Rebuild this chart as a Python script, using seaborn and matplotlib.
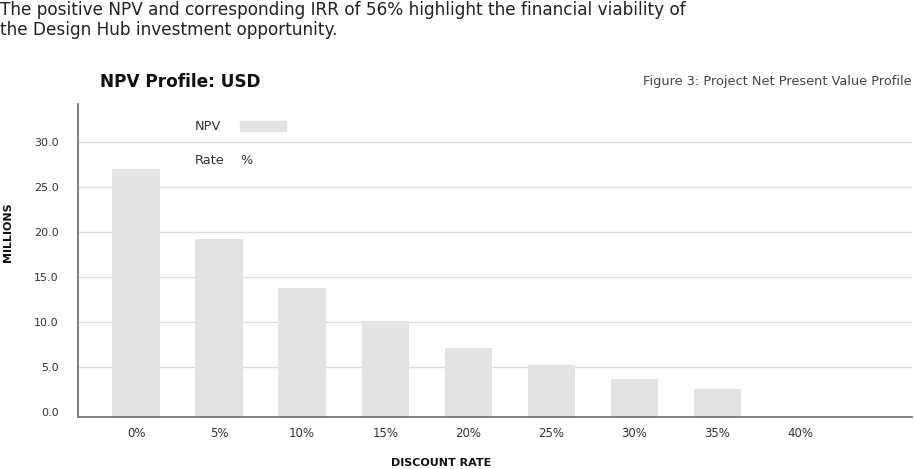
import pandas as pd
from matplotlib import pyplot as plt
import numpy as np
import seaborn as sns

# data
rates = ['0%', '5%', '10%', '15%', '20%', '25%', '30%', '35%', '40%']
npv = [27.0, 19.2, 13.8, 10.1, 7.1, 5.2, 3.7, 2.6, 0.0]
yticks = [0, 5, 10, 15, 20, 25, 30]

floor = -0.55  # axis sits a little below the 0.0 tick
df = pd.DataFrame({'rate': rates, 'npv': npv})
# bars are drawn up from the axis line
df['h'] = np.where(df['npv'] > 0, df['npv'] - floor, 0)

sns.set_theme(style='white')
plt.rcParams['font.family'] = ['DejaVu Sans']

fig = plt.figure(figsize=(9.14, 4.69), dpi=100)
ax = fig.add_axes([0.0853, 0.111, 0.913, 0.667])

sns.barplot(data=df, x='rate', y='h', color='#e3e3e3', saturation=1,
            width=0.57, ax=ax, bottom=floor, linewidth=0, zorder=2)

ax.set_xlim(-0.7, 9.35)
ax.set_ylim(floor, 34.2)
ax.set_yticks(yticks)
ax.set_yticklabels([f'{v:.1f}' for v in yticks], fontsize=8, color='#333333')
ax.set_xticks(range(len(rates)))
ax.set_xticklabels(rates, fontsize=8.5, color='#333333')
ax.tick_params(axis='x', length=0, pad=7)
ax.tick_params(axis='y', length=0, pad=14)
ax.yaxis.grid(True, color='#dddddd', linewidth=1, zorder=0)
ax.get_ygridlines()[0].set_visible(False)
ax.set_axisbelow(True)
ax.set_xlabel('')
ax.set_ylabel('')
for s in ['top', 'right']:
    ax.spines[s].set_visible(False)
for s in ['left', 'bottom']:
    ax.spines[s].set_color('#777777')
    ax.spines[s].set_linewidth(1.3)

# texts
fig.text(0.0, 1 - 10 / 469, 'The positive NPV and corresponding IRR of 56% highlight the financial viability of',
         fontsize=12.2, color='#222222', va='center', ha='left')
fig.text(0.0, 1 - 30 / 469, 'the Design Hub investment opportunity.',
         fontsize=12.2, color='#222222', va='center', ha='left')
fig.text(100 / 914, 1 - 82 / 469, 'NPV Profile: USD', fontsize=12.2, fontweight='bold',
         color='#111111', va='center', ha='left')
fig.text(912 / 914, 1 - 82 / 469, 'Figure 3: Project Net Present Value Profile', fontsize=9.3,
         color='#444444', va='center', ha='right')
fig.text(8 / 914, 1 - 232 / 469, 'MILLIONS', fontsize=8, fontweight='bold', rotation=90,
         color='#111111', va='center', ha='center')
fig.text(441 / 914, 1 - 463 / 469, 'DISCOUNT RATE', fontsize=8, fontweight='bold',
         color='#111111', va='center', ha='center')

# legend
fig.text(195 / 914, 1 - 126 / 469, 'NPV', fontsize=9.3, color='#333333', va='center', ha='left')
fig.patches.append(plt.Rectangle((240 / 914, 1 - 131 / 469), 46 / 914, 10 / 469,
                                 transform=fig.transFigure, color='#e3e3e3', figure=fig))
fig.text(195 / 914, 1 - 160 / 469, 'Rate', fontsize=9.3, color='#333333', va='center', ha='left')
fig.text(240 / 914, 1 - 161 / 469, '%', fontsize=9.3, color='#333333', va='center', ha='left')

plt.savefig('out.png', dpi=100)
